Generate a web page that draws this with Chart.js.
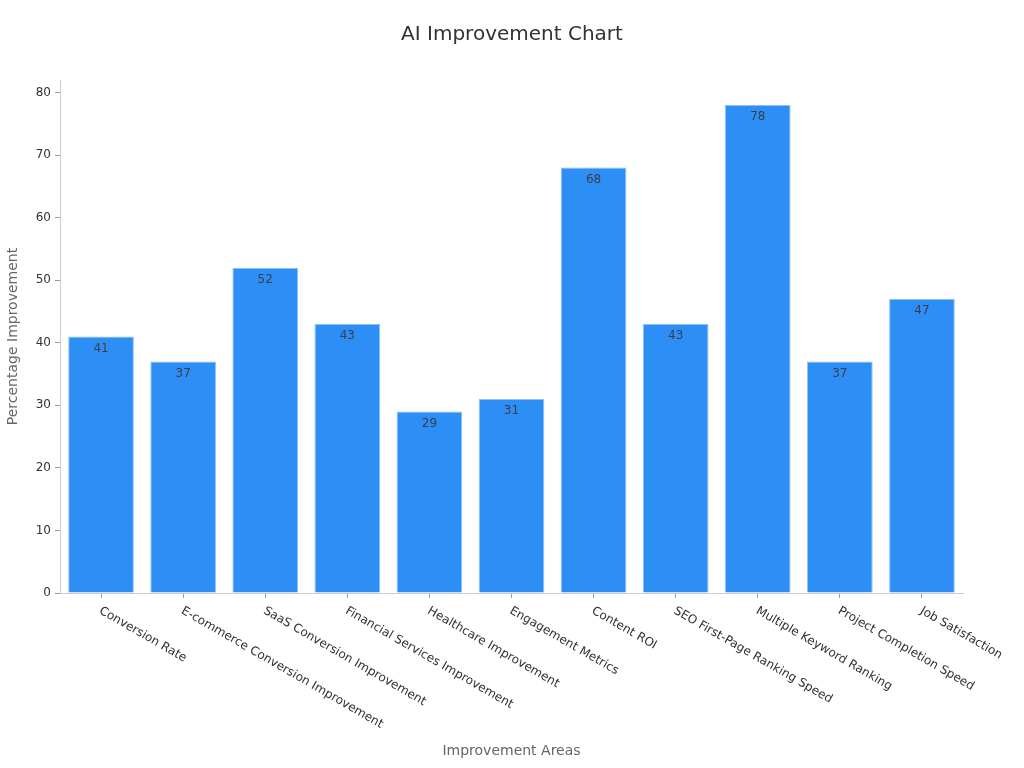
<!DOCTYPE html>
<html>
<head>
<meta charset="utf-8">
<script src="https://cdn.jsdelivr.net/npm/chart.js@4/dist/chart.umd.min.js"></script>
<style>
html,body{margin:0;padding:0;background:#fff;}
#wrap{width:1024px;height:768px;}
</style>
</head>
<body>
<div id="wrap"><canvas id="c" width="1024" height="768"></canvas></div>
<script>
const categories = [
  "Conversion Rate",
  "E-commerce Conversion Improvement",
  "SaaS Conversion Improvement",
  "Financial Services Improvement",
  "Healthcare Improvement",
  "Engagement Metrics",
  "Content ROI",
  "SEO First-Page Ranking Speed",
  "Multiple Keyword Ranking",
  "Project Completion Speed",
  "Job Satisfaction"
];
const values = [41, 37, 52, 43, 29, 31, 68, 43, 78, 37, 47];
const yTickValues = [0, 10, 20, 30, 40, 50, 60, 70, 80];
const yMax = 82;

const FONT = '"DejaVu Sans", sans-serif';

const xLabelPlugin = {
  id: 'xLabels',
  afterDraw(chart) {
    const xs = chart.scales.x;
    const ctx = chart.ctx;
    ctx.save();
    ctx.font = '12px ' + FONT;
    ctx.fillStyle = '#333';
    ctx.textAlign = 'left';
    ctx.textBaseline = 'middle';
    categories.forEach((label, i) => {
      const px = xs.getPixelForTick(i);
      ctx.save();
      ctx.translate(px - 1, xs.top + 17);
      ctx.rotate(Math.PI / 6);
      ctx.fillText(label, 0, 0);
      ctx.restore();
    });
    ctx.restore();
  }
};

const valueLabelPlugin = {
  id: 'valueLabels',
  afterDatasetsDraw(chart) {
    const ctx = chart.ctx;
    const meta = chart.getDatasetMeta(0);
    ctx.save();
    ctx.font = '12px ' + FONT;
    ctx.fillStyle = '#3a3f4a';
    ctx.textAlign = 'center';
    ctx.textBaseline = 'middle';
    meta.data.forEach((bar, i) => {
      ctx.fillText(String(values[i]), bar.x, bar.y + 12);
    });
    ctx.restore();
  }
};

new Chart(document.getElementById('c'), {
  type: 'bar',
  data: {
    labels: categories,
    datasets: [{
      data: values,
      backgroundColor: '#2D8FF5',
      borderColor: '#8EC0F7',
      borderWidth: 1,
      barPercentage: 0.8,
      categoryPercentage: 1.0
    }]
  },
  options: {
    responsive: false,
    animation: false,
    devicePixelRatio: 1,
    layout: { padding: 0 },
    plugins: {
      legend: { display: false },
      tooltip: { enabled: false },
      title: {
        display: true,
        text: 'AI Improvement Chart',
        color: '#333',
        font: { family: FONT, size: 20, weight: 'normal' },
        padding: { top: 23, bottom: 33 }
      }
    },
    scales: {
      x: {
        grid: { drawOnChartArea: false, drawTicks: true, tickLength: 5, color: '#999', offset: false },
        border: { color: '#ccc', width: 1 },
        ticks: { display: false },
        title: {
          display: true,
          text: 'Improvement Areas',
          color: '#666',
          font: { family: FONT, size: 14 },
          padding: { top: 140, bottom: 8 }
        },
        afterFit(scale) { scale.height = 175; }
      },
      y: {
        min: 0,
        max: yMax,
        grid: { drawOnChartArea: false, drawTicks: true, tickLength: 5, color: '#999' },
        border: { color: '#ccc', width: 1 },
        afterBuildTicks(scale) { scale.ticks = yTickValues.map(v => ({ value: v })); },
        ticks: {
          color: '#333',
          font: { family: FONT, size: 12 },
          padding: 4
        },
        title: {
          display: true,
          text: 'Percentage Improvement',
          color: '#666',
          font: { family: FONT, size: 14 },
          padding: { top: 5, bottom: 10 }
        },
        afterFit(scale) { scale.width = 60; }
      },
      yRight: {
        position: 'right',
        display: true,
        min: 0,
        max: yMax,
        grid: { display: false },
        border: { display: false },
        ticks: { display: false },
        afterFit(scale) { scale.width = 61; }
      }
    }
  },
  plugins: [xLabelPlugin, valueLabelPlugin]
});
</script>
</body>
</html>
